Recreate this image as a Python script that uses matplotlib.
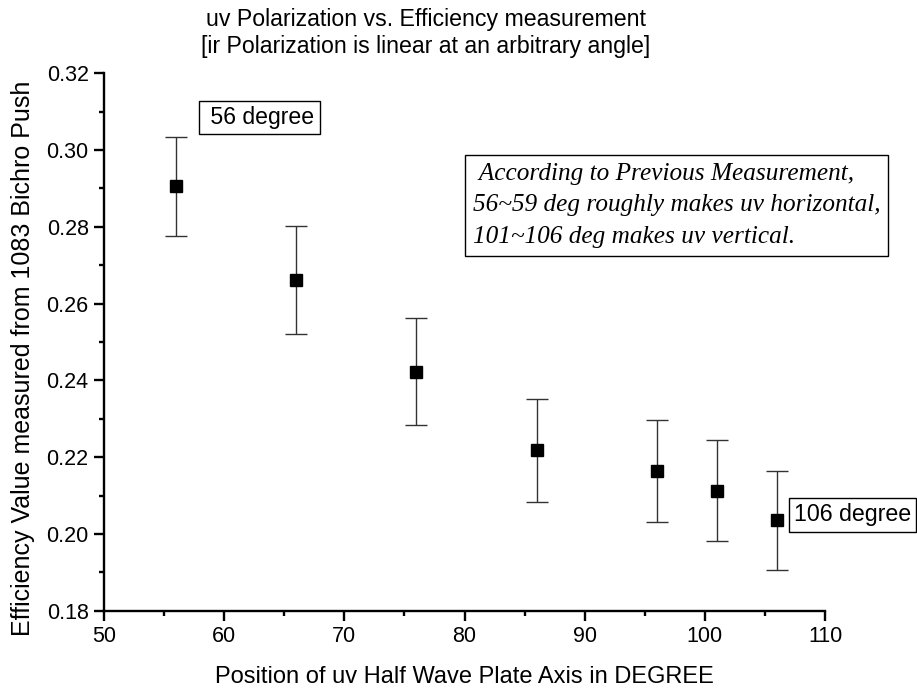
import matplotlib.pyplot as plt
from matplotlib.ticker import MultipleLocator

# positions of the uv half wave plate (degree)
angle = [56, 66, 76, 86, 96, 101, 106]
# efficiency values and their error bars
efficiency = [0.2906, 0.2662, 0.2423, 0.2218, 0.2163, 0.2113, 0.2035]
err = [0.0129, 0.0141, 0.0139, 0.0134, 0.0133, 0.0132, 0.0130]

plt.rcParams['font.family'] = ['Liberation Sans', 'DejaVu Sans']

fig = plt.figure(figsize=(9.17, 6.88), dpi=100)
ax = fig.add_axes([0.1134, 0.1124, 0.7863, 0.7811])

ax.errorbar(angle, efficiency, yerr=err, fmt='s', color='black', ms=8,
            ecolor='#333333', elinewidth=1, capsize=8, capthick=1)

ax.set_xlim(50, 110)
ax.set_ylim(0.18, 0.32)
ax.xaxis.set_major_locator(MultipleLocator(10))
ax.xaxis.set_minor_locator(MultipleLocator(5))
ax.yaxis.set_major_locator(MultipleLocator(0.02))
ax.yaxis.set_minor_locator(MultipleLocator(0.01))
ax.yaxis.set_major_formatter(plt.FormatStrFormatter('%.2f'))

for s in ['top', 'right']:
    ax.spines[s].set_visible(False)
for s in ['left', 'bottom']:
    ax.spines[s].set_linewidth(1.7)
ax.tick_params(which='major', direction='out', length=7, width=1.7, labelsize=15.5)
ax.tick_params(which='minor', direction='out', length=3.6, width=1.7)
ax.tick_params(axis='x', pad=4)
ax.tick_params(axis='y', pad=4)

ax.set_xlabel('Position of uv Half Wave Plate Axis in DEGREE', fontsize=17, va='center')
ax.xaxis.set_label_coords(0.5, -0.124)
ax.set_ylabel('Efficiency Value measured from 1083 Bichro Push', fontsize=18, va='center')
ax.yaxis.set_label_coords(-0.113, 0.47)
fig.text(0.4645, 0.952, 'uv Polarization vs. Efficiency measurement\n'
         '[ir Polarization is linear at an arbitrary angle]',
         ha='center', va='center', fontsize=16.7, linespacing=1.25)

ax.text(62.94, 0.3084, ' 56 degree', fontsize=16.6, ha='center', va='center',
        bbox=dict(boxstyle='square,pad=0.22', fc='white', ec='black', lw=1))
fig.text(0.9300, 0.2515, '106 degree', fontsize=16.7, ha='center', va='center',
         bbox=dict(boxstyle='square,pad=0.22', fc='white', ec='black', lw=1))

fig.text(0.5155, 0.7018, ' According to Previous Measurement,\n'
         '56~59 deg roughly makes uv horizontal,\n'
         '101~106 deg makes uv vertical.',
         family='Liberation Serif', style='italic', fontsize=18.2, ha='left', va='center',
         linespacing=1.55,
         bbox=dict(boxstyle='square,pad=0.32', fc='white', ec='black', lw=1))

fig.savefig('out.png', dpi=100)
